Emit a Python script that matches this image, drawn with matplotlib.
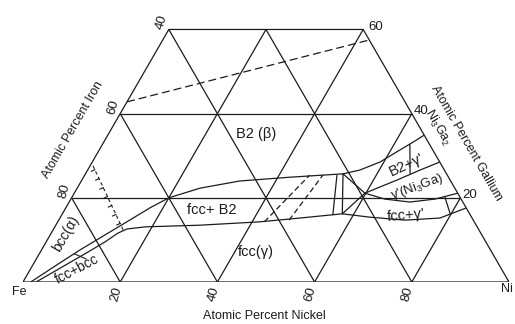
import numpy as np
import matplotlib.pyplot as plt

# 字体：Arial 同尺寸的 Liberation Sans，缺字回退 DejaVu
plt.rcParams["font.family"] = ["Liberation Sans", "DejaVu Sans"]
plt.rcParams["mathtext.fontset"] = "custom"
plt.rcParams["mathtext.rm"] = "Liberation Sans"
plt.rcParams["mathtext.it"] = "Liberation Sans:italic"

INK = "#1c1c1c"

# 相界 (Ni, Ga) 原子百分数
b2_ni = [1.6, 4.7, 7.9, 11.3, 14.6, 17.3, 20.0, 25.3, 32.6, 42.5, 53.0, 56.0, 59.2, 61.9, 63.9, 65.1]
b2_ga = [0.0, 3.8, 7.6, 11.2, 14.7, 17.6, 20.0, 22.3, 24.0, 24.9, 25.7, 26.6, 28.5, 31.4, 33.5, 34.9]

fcc_ni = [2.7, 6.0, 9.4, 12.1, 13.7, 15.1, 18.6, 29.7, 41.6, 49.4, 57.6, 63.7, 71.2, 78.2, 82.4]
fcc_ga = [0.0, 3.3, 6.7, 9.5, 11.6, 12.6, 13.1, 13.5, 14.3, 15.2, 16.2, 15.4, 14.7, 15.2, 17.6]

gp_top_ni = [59.8, 62.2, 64.8, 68.4, 71.5]
gp_top_ga = [21.1, 22.6, 24.2, 26.6, 28.5]
gp_bot_ni = [59.8, 64.6, 70.1, 74.9, 78.9]
gp_bot_ga = [21.1, 19.7, 19.0, 19.7, 21.1]

# 三相区 fcc + B2 + γ'
tri_ni = [53.0, 59.8, 57.6, 53.0]
tri_ga = [25.7, 21.1, 16.2, 25.7]

# 连接线 (ni1, ga1, ni2, ga2)
ties_dashed = [(42.5, 14.3, 46.3, 25.4), (47.4, 14.7, 49.0, 25.4)]
ties_solid = [(55.8, 15.9, 51.9, 25.4), (63.2, 32.8, 66.8, 25.7), (76.7, 20.2, 79.8, 16.2)]

# A2/B2 有序化线
order_ni = [0.6, 14.4]
order_ga = [27.6, 12.4]
order_ticks = [0.06, 0.2, 0.34, 0.48, 0.62, 0.76, 0.9]

# 上方虚线
dash_ni = [0.0, 42.5]
dash_ga = [42.8, 57.5]

grid_vals = [20, 40, 60, 80]
ga_max = 60

labels = [
    ("B2 (β)", 30.4, 35.2, 0, 10.5),
    ("fcc+ B2", 30.3, 17.1, 0, 10.5),
    ("fcc(γ)", 44.4, 7.1, 0, 10.5),
    ("bcc(α)", 3.1, 11.4, 60, 10),
    ("fcc+bcc", 9.6, 3.0, 28, 10),
    ("B2+γ'", 64.9, 27.8, 25, 10.5),
    ("γ'(Ni$_3$Ga)", 69.8, 22.6, 20, 9.5),
    ("fcc+γ'", 70.9, 15.9, 5, 10.5),
    ("Ni$_3$Ga$_2$", 67.1, 36.6, -60, 9),
]


def tern(ni, ga):
    ni = np.asarray(ni, dtype=float)
    ga = np.asarray(ga, dtype=float)
    return ni + ga / 2, ga * np.sqrt(3) / 2


fig = plt.figure(figsize=(5.15, 3.24), dpi=100)
ax = fig.add_axes([23 / 515, 42 / 324, 486 / 515, 282 / 324])
ax.set_xlim(0, 100)
ax.set_ylim(0, 282 / 4.86)
ax.axis("off")

lw = 0.9
kw = dict(color=INK, lw=lw, solid_capstyle="butt")

# 外框
fx, fy = tern([0, 100, 40, 0, 0], [0, 0, ga_max, ga_max, 0])
ax.plot(fx, fy, **kw)

# 网格
for v in grid_vals:
    if v < ga_max:
        x, y = tern([0, 100 - v], [v, v])
        ax.plot(x, y, **kw)
    x, y = tern([v, v], [0, min(ga_max, 100 - v)])
    ax.plot(x, y, **kw)
    fe = v
    top = min(ga_max, 100 - fe)
    x, y = tern([100 - fe, 100 - fe - top], [0, top])
    ax.plot(x, y, **kw)

# 相界
for ni, ga in [(b2_ni, b2_ga), (fcc_ni, fcc_ga), (gp_top_ni, gp_top_ga),
               (gp_bot_ni, gp_bot_ga), (tri_ni, tri_ga)]:
    x, y = tern(ni, ga)
    ax.plot(x, y, **kw)

for n1, g1, n2, g2 in ties_dashed:
    x, y = tern([n1, n2], [g1, g2])
    ax.plot(x, y, color=INK, lw=lw, dashes=(4.5, 2.5))
for n1, g1, n2, g2 in ties_solid:
    x, y = tern([n1, n2], [g1, g2])
    ax.plot(x, y, **kw)

x, y = tern(dash_ni, dash_ga)
ax.plot(x, y, color=INK, lw=lw, dashes=(6.4, 3.2))

# 有序化线：虚线加小刻度
ox, oy = tern(order_ni, order_ga)
ax.plot(ox, oy, color=INK, lw=0.8, dashes=(3, 2.5))
d = np.array([ox[1] - ox[0], oy[1] - oy[0]])
d = d / np.hypot(*d)
n = np.array([-d[1], d[0]]) * -0.75
for t in order_ticks:
    px = ox[0] + t * (ox[1] - ox[0])
    py = oy[0] + t * (oy[1] - oy[0])
    ax.plot([px, px + n[0]], [py, py + n[1]], color=INK, lw=0.8)

# fcc+bcc 引线
lx, ly = tern([7.2, 10.2], [6.7, 5.5])
ax.plot(lx, ly, color=INK, lw=0.8)

# 相区标注
for txt, ni, ga, rot, fs in labels:
    x, y = tern(ni, ga)
    ax.text(x, y, txt, fontsize=fs, color=INK, rotation=rot,
            ha="center", va="center", rotation_mode="anchor", clip_on=False)

# 刻度数字
for v in grid_vals:
    x, y = tern(v, 0)
    ax.annotate(str(v), (x, y), xytext=(-3, -9), textcoords="offset points",
                fontsize=9.5, color=INK, rotation=75, ha="center", va="center")
for fe in [80, 60, 40]:
    x, y = tern(0, 100 - fe)
    ax.annotate(str(fe), (x, y), xytext=(-5, 5), textcoords="offset points",
                fontsize=9.5, color=INK, rotation=75, ha="center", va="center")
for ga, off in [(60, (4, 2)), (40, (1, 2)), (20, (1.5, 2))]:
    x, y = tern(100 - ga, ga)
    ax.annotate(str(ga), (x, y), xytext=off, textcoords="offset points",
                fontsize=9.5, color=INK, ha="left", va="center")

x, y = tern(0, 0)
ax.annotate("Fe", (x, y), xytext=(-3, -7), textcoords="offset points",
            fontsize=9, color=INK, ha="center", va="center")
x, y = tern(100, 0)
ax.annotate("Ni", (x, y), xytext=(-5.5, -5), textcoords="offset points",
            fontsize=9, color=INK, ha="left", va="center")

# 坐标轴标题
fig.text(73 / 515, 1 - 130 / 324, "Atomic Percent Iron", fontsize=9,
         color=INK, rotation=60, ha="center", va="center")
fig.text(466 / 515, 1 - 143 / 324, "Atomic Percent Gallium", fontsize=9,
         color=INK, rotation=-60, ha="center", va="center")
fig.text(264 / 515, 1 - 316 / 324, "Atomic Percent Nickel", fontsize=9,
         color=INK, ha="center", va="center")

fig.savefig("out.png", dpi=100)
